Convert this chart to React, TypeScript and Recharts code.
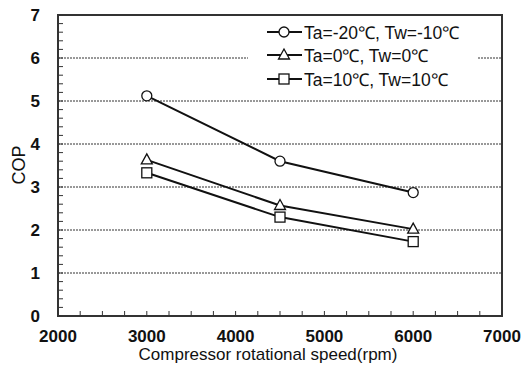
import { LineChart, Line, XAxis, YAxis, ReferenceLine, ReferenceArea } from 'recharts'

const speeds = [3000, 4500, 6000]
const copLow = [5.12, 3.6, 2.87]
const copMid = [3.63, 2.57, 2.02]
const copHigh = [3.33, 2.3, 1.73]

const seriesNames = ['Ta=-20℃, Tw=-10℃', 'Ta=0℃, Tw=0℃', 'Ta=10℃, Tw=10℃']
const xMajorTicks = [2000, 3000, 4000, 5000, 6000, 7000]
const yMajorTicks = [0, 1, 2, 3, 4, 5, 6, 7]
const gridValues = [1, 2, 3, 4, 5, 6]

// minor ticks: 4 per major interval on x, 5 on y
const xTicks = xMajorTicks.flatMap((t, i) =>
  i === xMajorTicks.length - 1 ? [t] : [t, t + 250, t + 500, t + 750]
)
const yTicks = yMajorTicks.flatMap((t, i) =>
  i === yMajorTicks.length - 1 ? [t] : [t, t + 0.2, t + 0.4, t + 0.6, t + 0.8]
)

const data = speeds.map((s, i) => ({ speed: s, low: copLow[i], mid: copMid[i], high: copHigh[i] }))

const FONT = '"Liberation Sans", Arial, sans-serif'
const INK = '#111'
const AXIS = '#333'

type Shape = 'circle' | 'triangle' | 'square'

function Marker({ cx, cy, shape }: { cx: number; cy: number; shape: Shape }) {
  if (cx == null || cy == null) return null
  const common = { fill: '#fff', stroke: INK, strokeWidth: 1.3 }
  if (shape === 'circle') return <circle cx={cx} cy={cy} r={5} {...common} />
  if (shape === 'triangle')
    return <polygon points={`${cx},${cy - 6} ${cx - 5.5},${cy + 4} ${cx + 5.5},${cy + 4}`} {...common} />
  return <rect x={cx - 5} y={cy - 5} width={10} height={10} {...common} />
}

const shapes: Shape[] = ['circle', 'triangle', 'square']

function LegendBox() {
  return (
    <div
      style={{
        position: 'absolute',
        left: 248,
        top: 19,
        width: 230,
        background: '#fff',
        padding: '1px 0 6px 19px',
        boxSizing: 'border-box',
        fontFamily: FONT,
        fontSize: 17.5,
        color: INK,
      }}
    >
      {seriesNames.map((name, i) => (
        <div key={name} style={{ display: 'flex', alignItems: 'center', height: 23.5 }}>
          <svg width={35} height={16} style={{ marginRight: 2 }}>
            <line x1={0} y1={8} x2={35} y2={8} stroke={INK} strokeWidth={2} />
            <Marker cx={17} cy={8} shape={shapes[i]} />
          </svg>
          <span style={{ whiteSpace: 'nowrap' }}>{name}</span>
        </div>
      ))}
    </div>
  )
}

const isWhole = (v: number) => Math.abs(v - Math.round(v)) < 1e-6

// inward tick marks + labels on the major values only
function XTick(props: any) {
  const { x, y, payload } = props
  const axisY = y - 14
  const v = payload.value
  return (
    <g>
      <line x1={x} y1={axisY} x2={x} y2={axisY - 5} stroke={AXIS} strokeWidth={1} />
      {v % 1000 === 0 && (
        <text x={x} y={y} dy="0.71em" textAnchor="middle" fill={INK} fontSize={17} fontWeight="bold" fontFamily={FONT}>
          {v}
        </text>
      )}
    </g>
  )
}

function YTick(props: any) {
  const { x, y, payload } = props
  const axisX = x + 18
  const v = payload.value
  return (
    <g>
      <line x1={axisX} y1={y} x2={axisX + 5} y2={y} stroke={AXIS} strokeWidth={1} />
      {isWhole(v) && (
        <text x={x} y={y} dy="0.355em" textAnchor="end" fill={INK} fontSize={17} fontWeight="bold" fontFamily={FONT}>
          {Math.round(v)}
        </text>
      )}
    </g>
  )
}

export default function App() {
  return (
    <div style={{ position: 'absolute', left: 0, top: 0, width: 531, height: 367, background: '#fff' }}>
      <LineChart width={531} height={367} data={data} margin={{ top: 15, right: 29, bottom: 5, left: 0 }}>
        <XAxis
          dataKey="speed"
          type="number"
          domain={[2000, 7000]}
          ticks={xTicks}
          interval={0}
          tickSize={0}
          tickMargin={14}
          axisLine={{ stroke: AXIS, strokeWidth: 2 }}
          tickLine={false}
          tick={<XTick />}
          height={46}
          label={{
            content: () => (
              <text x={268} y={360} textAnchor="middle" fill={INK} fontSize={17} fontFamily={FONT}>
                Compressor rotational speed(rpm)
              </text>
            ),
          }}
        />
        <YAxis
          type="number"
          domain={[0, 7]}
          ticks={yTicks}
          interval={0}
          tickSize={0}
          tickMargin={18}
          width={58}
          axisLine={{ stroke: AXIS, strokeWidth: 2 }}
          tickLine={false}
          tick={<YTick />}
          label={{
            content: () => (
              <text
                x={19}
                y={165}
                transform="rotate(-90 19 165)"
                textAnchor="middle"
                dominantBaseline="central"
                fill={INK}
                fontSize={18}
                fontFamily={FONT}
              >
                COP
              </text>
            ),
          }}
        />
        {gridValues.map((v) => (
          <ReferenceLine key={v} y={v} stroke={AXIS} strokeWidth={1} strokeDasharray="2 1" />
        ))}
        <ReferenceArea x1={2000} x2={7000} y1={0} y2={7} fill="none" stroke={AXIS} strokeWidth={2} />
        <Line
          dataKey="low"
          name={seriesNames[0]}
          stroke={INK}
          strokeWidth={2}
          isAnimationActive={false}
          dot={(p: any) => <Marker key={`l${p.index}`} cx={p.cx} cy={p.cy} shape="circle" />}
        />
        <Line
          dataKey="mid"
          name={seriesNames[1]}
          stroke={INK}
          strokeWidth={2}
          isAnimationActive={false}
          dot={(p: any) => <Marker key={`m${p.index}`} cx={p.cx} cy={p.cy} shape="triangle" />}
        />
        <Line
          dataKey="high"
          name={seriesNames[2]}
          stroke={INK}
          strokeWidth={2}
          isAnimationActive={false}
          dot={(p: any) => <Marker key={`h${p.index}`} cx={p.cx} cy={p.cy} shape="square" />}
        />
      </LineChart>
      <LegendBox />
    </div>
  )
}
